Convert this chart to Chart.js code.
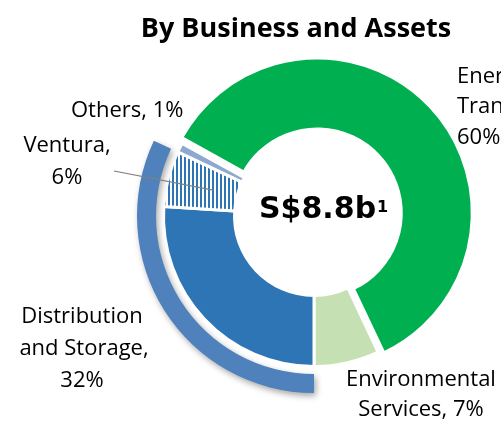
<!DOCTYPE html>
<html>
<head>
<meta charset="utf-8">
<script src="https://cdn.jsdelivr.net/npm/chart.js@4.4.1/dist/chart.umd.min.js"></script>
<style>
  html, body { margin: 0; padding: 0; background: #fff; }
  #wrap { width: 501px; height: 423px; }
</style>
</head>
<body>
<div id="wrap"><canvas id="chart" width="501" height="423"></canvas></div>
<script>
// shares of S$8.8b, in percent (Ventura is part of Distribution and Storage)
const categories = ['Energy Transition', 'Environmental Services', 'Distribution and Storage', 'Ventura', 'Others'];
const sharePct = [60, 7, 32, 6, 1];
const totalText = 'S$8.8b';
const totalNote = '1';

const segmentColors = ['#00B050', '#C5E0B3', '#2E75B6', null, '#8DA9CF'];
const bracketColor = '#4F81BD';

// Ventura is drawn hatched: thin blue verticals on white
function hatch() {
    const c = document.createElement('canvas');
    c.width = 4;
    c.height = 4;
    const g = c.getContext('2d');
    g.fillStyle = '#fff';
    g.fillRect(0, 0, 4, 4);
    g.fillStyle = '#2E75B6';
    g.fillRect(0, 0, 2, 4);
    return g.createPattern(c, 'repeat');
}

const distIdx = categories.indexOf('Distribution and Storage');
const ventIdx = categories.indexOf('Ventura');

// inner ring: distribution shown without its Ventura part
const ringData = sharePct.map((v, i) => i === distIdx ? v - sharePct[ventIdx] : v);
// outer bracket: everything before distribution, distribution (incl. Ventura), the rest
const bracketData = [
    sharePct[0] + sharePct[1],
    sharePct[distIdx],
    sharePct[4]
];

const colors = segmentColors.slice();
colors[ventIdx] = hatch();

const textPlugin = {
    id: 'texts',
    beforeDatasetDraw(chart, args) {
        if (args.index === 0) {
            const ctx = chart.ctx;
            ctx.save();
            ctx.shadowColor = 'rgba(0,0,0,0.35)';
            ctx.shadowBlur = 6;
            ctx.shadowOffsetX = 2;
            ctx.shadowOffsetY = 3;
        }
    },
    afterDatasetDraw(chart, args) {
        if (args.index === 0) chart.ctx.restore();
    },
    afterDraw(chart) {
        const ctx = chart.ctx;
        ctx.save();
        ctx.fillStyle = '#000';
        ctx.textBaseline = 'alphabetic';

        ctx.font = 'bold 27px "Open Sans"';
        ctx.textAlign = 'center';
        ctx.fillText('By Business and Assets', 296, 37);

        ctx.font = '22px "Open Sans"';
        ctx.textAlign = 'left';
        ctx.fillText('Energy', 457, 83);
        ctx.fillText('Transition,', 457, 113);
        ctx.fillText('60%', 457, 144);
        ctx.fillText('Others, 1%', 71, 117);

        ctx.textAlign = 'center';
        ctx.fillText('Ventura,', 67, 152);
        ctx.fillText('6%', 67, 184);
        ctx.fillText('Distribution', 82, 323);
        ctx.fillText('and Storage,', 84, 355);
        ctx.fillText('32%', 82, 387);
        ctx.fillText('Environmental', 421, 386);
        ctx.fillText('Services, 7%', 421, 416);

        // total in the hole
        ctx.font = 'bold 30px "DejaVu Sans"';
        ctx.textAlign = 'left';
        ctx.fillText(totalText, 259, 218);
        const w = ctx.measureText(totalText).width;
        ctx.font = 'bold 16px "DejaVu Sans"';
        ctx.fillText(totalNote, 259 + w + 1, 212);

        // leader line into the Ventura slice
        const arc = chart.getDatasetMeta(2).data[ventIdx];
        const mid = (arc.startAngle + arc.endAngle) / 2;
        const r = arc.innerRadius + (arc.outerRadius - arc.innerRadius) * 0.35;
        ctx.strokeStyle = '#7F7F7F';
        ctx.lineWidth = 1.2;
        ctx.beginPath();
        ctx.moveTo(114, 171);
        ctx.lineTo(arc.x + Math.cos(mid) * r, arc.y + Math.sin(mid) * r);
        ctx.stroke();
        ctx.restore();
    }
};

new Chart(document.getElementById('chart'), {
    type: 'doughnut',
    data: {
        labels: categories,
        datasets: [{
            data: bracketData,
            backgroundColor: ['rgba(0,0,0,0)', bracketColor, 'rgba(0,0,0,0)'],
            borderWidth: 0,
            weight: 19
        }, {
            data: [100],
            backgroundColor: 'rgba(0,0,0,0)',
            borderWidth: 0,
            weight: 7.5
        }, {
            data: ringData,
            backgroundColor: colors,
            borderColor: '#fff',
            borderWidth: 3,
            offset: [18, 0, 0, 0, 0],
            weight: 71
        }]
    },
    options: {
        responsive: false,
        animation: false,
        rotation: -61.2,
        radius: 177,
        cutout: '44.92%',
        layout: { padding: { left: 127, right: 0, top: 9, bottom: 0 } },
        plugins: {
            legend: { display: false },
            tooltip: { enabled: false },
            title: { display: false }
        }
    },
    plugins: [textPlugin]
});
</script>
</body>
</html>
